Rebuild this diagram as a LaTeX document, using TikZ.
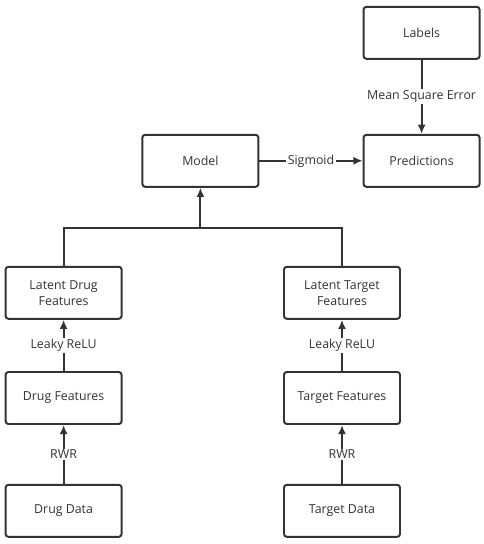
\documentclass[tikz,border=0pt]{standalone}
\usepackage{fontspec}
\setmainfont{Open Sans}
\usepackage{tikz}
\usetikzlibrary{arrows.meta}
\definecolor{edgegray}{HTML}{333333}

\tikzset{
  box/.style={rectangle, rounded corners=2pt, draw=edgegray, line width=1.4pt,
    minimum width=2.9cm, minimum height=1.3cm, align=center,
    font=\fontsize{8.8}{11.5}\selectfont, text=edgegray},
  wire/.style={draw=edgegray, line width=1.4pt},
  lbl/.style={fill=white, inner sep=1pt, font=\fontsize{8.8}{11.5}\selectfont, text=edgegray}
}

\begin{document}
\begin{tikzpicture}
\useasboundingbox (0,0) rectangle (12.1,13.6);
\node[box] (A) at (10.54,12.78) {Labels};
\node[box] (B) at (10.54,9.58) {Predictions};
\node[box] (C) at (5.01,9.58) {Model};
\node[box] (D) at (1.59,6.28) {Latent Drug\\Features};
\node[box] (E) at (8.55,6.28) {Latent Target\\Features};
\node[box] (F) at (1.59,3.65) {Drug Features};
\node[box] (G) at (8.55,3.65) {Target Features};
\node[box] (H) at (1.59,0.83) {Drug Data};
\node[box] (I) at (8.55,0.83) {Target Data};
\coordinate (J) at (5.01,7.9);

\draw[>={Latex[length=2.3mm,width=2mm]},->,wire] (A) -- node[lbl] {Mean Square Error} (B);
\draw[>={Latex[length=2.3mm,width=2mm]},->,wire] (C) -- node[lbl] {Sigmoid} (B);
\draw[wire] (D) |- (J) -| (E);
\draw[>={Latex[length=2.3mm,width=2mm]},->,wire] (J) -- (C);
\draw[>={Latex[length=2.3mm,width=2mm]},->,wire] (F) -- node[lbl] {Leaky ReLU} (D);
\draw[>={Latex[length=2.3mm,width=2mm]},->,wire] (G) -- node[lbl] {Leaky ReLU} (E);
\draw[>={Latex[length=2.3mm,width=2mm]},->,wire] (H) -- node[lbl] {RWR} (F);
\draw[>={Latex[length=2.3mm,width=2mm]},->,wire] (I) -- node[lbl] {RWR} (G);

\end{tikzpicture}
\end{document}
